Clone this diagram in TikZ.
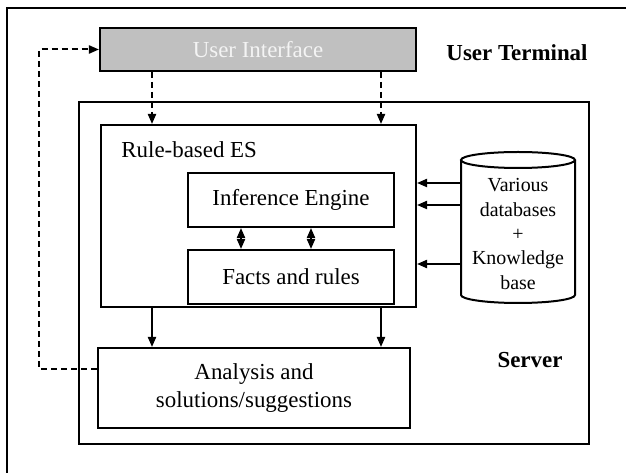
\documentclass[tikz,border=0pt]{standalone}
\usepackage{fontspec}
\setmainfont{Liberation Serif}
\usetikzlibrary{arrows.meta}
\definecolor{uigray}{RGB}{192,192,192}
\definecolor{uitext}{RGB}{244,244,244}
\tikzset{
	box/.style={draw, line width=1bp, inner sep=0pt},
	txt/.style={font=\fontsize{11.5}{14}\selectfont},
	link/.style={line width=1bp, -{Triangle[length=5bp,width=4bp]}},
	dashlink/.style={link, dash pattern=on 3bp off 2bp},
	twoway/.style={line width=1bp, {Triangle[length=5bp,width=4bp]}-{Triangle[length=5bp,width=4bp]}},
}
\begin{document}
\begin{tikzpicture}[x=0.5bp,y=-0.5bp]
			%%%%% START %%%%%
			
			\useasboundingbox (0,0) rectangle (626,473);
			\draw[line width=1bp] (626,8) -- (7,8) -- (7,473);
			
			\node[box, txt, fill=uigray, text=uitext, minimum width=158bp, minimum height=21.5bp] (ui) at (258,49.5) {User Interface};
			\node[txt] (terminal) at (517,53) {\bfseries User Terminal};
			
			\node[box, minimum width=255bp, minimum height=171bp] (server) at (334,273) {};
			\node[txt] (serverlabel) at (530,360) {\bfseries Server};
			
			\node[box, minimum width=157.5bp, minimum height=91bp] (es) at (258.5,216) {};
			\node[txt, anchor=west, inner sep=0pt] (eslabel) at (121,150) {Rule-based ES};
			\node[box, txt, minimum width=103bp, minimum height=27bp] (ie) at (291,200) {Inference Engine};
			\node[box, txt, minimum width=103bp, minimum height=27bp] (fr) at (291,277) {Facts and rules};
			
			\node[box, txt, font=\fontsize{11.5}{14.5}\selectfont, align=center, minimum width=156bp, minimum height=40bp] (an) at (254,388) {Analysis and\\solutions/suggestions};
			
			% database cylinder
			\draw[line width=1bp, fill=white] (461,160) -- (461,295) arc (180:0:57 and 8) -- (575,160);
			\draw[line width=1bp] (518,160) ellipse (57 and 8);
			\node[txt, font=\fontsize{10}{12.25}\selectfont, align=center, minimum width=57bp, inner sep=0pt] (db) at (518,234) {Various\\databases\\+\\Knowledge\\base};
			
			\coordinate (xl) at (152,0);
			\coordinate (xr) at (381,0);
			\coordinate (xa) at (241,0);
			\coordinate (xb) at (311,0);
			\coordinate (ya) at (0,183);
			\coordinate (yb) at (0,205);
			\coordinate (yc) at (0,264);
			\coordinate (back) at (39,369);
			
			\draw[dashlink] (ui.south -| xl) -- (es.north -| xl);
			\draw[dashlink] (ui.south -| xr) -- (es.north -| xr);
			\draw[link] (es.south -| xl) -- (an.north -| xl);
			\draw[link] (es.south -| xr) -- (an.north -| xr);
			\draw[twoway] (ie.south -| xa) -- (fr.north -| xa);
			\draw[twoway] (ie.south -| xb) -- (fr.north -| xb);
			\draw[link] (db.west |- ya) -- (es.east |- ya);
			\draw[link] (db.west |- yb) -- (es.east |- yb);
			\draw[link] (db.west |- yc) -- (es.east |- yc);
			\draw[dashlink] (an.west |- back) -- (back) |- (ui.west);
			
			%%%%% END %%%%%
\end{tikzpicture}
\end{document}
